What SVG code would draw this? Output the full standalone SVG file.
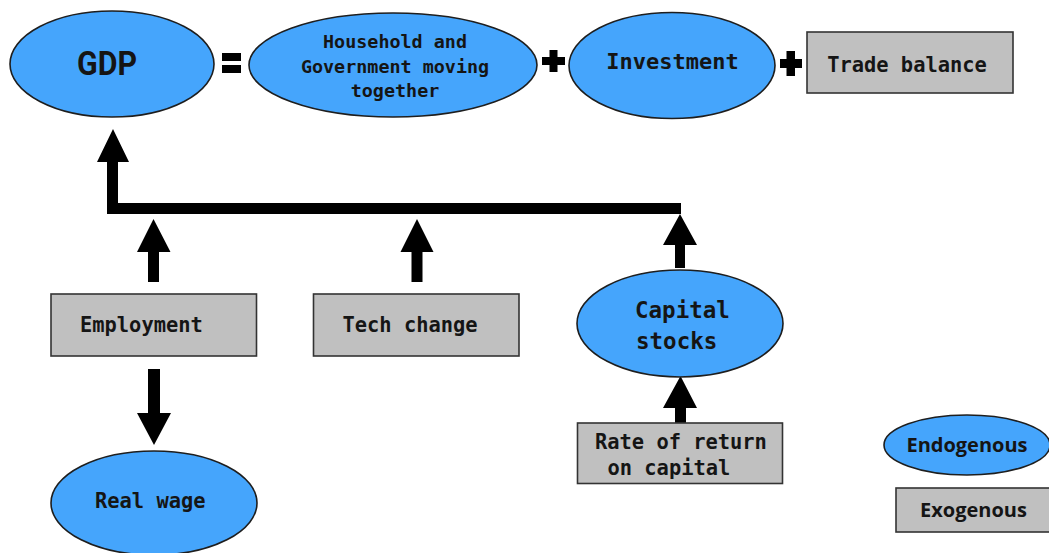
<svg xmlns="http://www.w3.org/2000/svg" width="1049" height="553" viewBox="0 0 1049 553">
<style>
.endo{fill:#45a5fc;stroke:#1e1e1e;stroke-width:1.6}
.exo{fill:#c0c0c0;stroke:#333;stroke-width:1.6}
.mono{font-family:"DejaVu Sans Mono","Liberation Mono",monospace;font-weight:bold;fill:#151515}
.sans{font-family:"Open Sans","DejaVu Sans",sans-serif;font-weight:bold;fill:#151515}
.blk{fill:#000}
</style>
<rect width="1049" height="553" fill="#fff"/>
<g id="gdp">
<ellipse class="endo" cx="112" cy="64" rx="102" ry="53"/>
<text x="107" y="75" font-family="Roboto,'DejaVu Sans',sans-serif" font-weight="bold" font-size="33" fill="#151515" text-anchor="middle" textLength="60" lengthAdjust="spacingAndGlyphs">GDP</text>
</g>
<g id="equals" class="blk">
<rect x="222" y="53" width="19" height="8"/>
<rect x="222" y="65" width="19" height="8"/>
</g>
<g id="household">
<ellipse class="endo" cx="393" cy="65" rx="144" ry="52"/>
<text class="mono" font-size="18.4" text-anchor="middle"><tspan x="395" y="48">Household and</tspan><tspan x="395" y="72.5">Government moving</tspan><tspan x="395" y="97">together</tspan></text>
</g>
<g id="plus1" class="blk">
<rect x="549.5" y="50" width="8" height="22"/>
<rect x="542" y="57" width="23" height="8"/>
</g>
<g id="investment">
<ellipse class="endo" cx="672" cy="65.5" rx="103" ry="53"/>
<text class="mono" font-size="22" x="672.5" y="69" text-anchor="middle">Investment</text>
</g>
<g id="plus2" class="blk">
<rect x="786.5" y="51" width="8.5" height="25"/>
<rect x="780" y="59" width="22" height="9"/>
</g>
<g id="trade">
<rect class="exo" x="807" y="32" width="206" height="61"/>
<text class="mono" font-size="20.4" x="907" y="71.5" text-anchor="middle">Trade balance</text>
</g>
<g id="connectors" class="blk">
<path d="M107,214 L107,162 L97,162 L113,129 L129,162 L118,162 L118,203 L681,203 L681,214 Z"/>
<path d="M148,282 L148,252 L137,252 L153.5,219 L170.5,252 L159,252 L159,282 Z"/>
<path d="M411.5,282 L411.5,252 L400.5,252 L417,219 L433.5,252 L422.5,252 L422.5,282 Z"/>
<path d="M675,268 L675,245 L663,245 L680,214 L697,245 L685,245 L685,268 Z"/>
<path d="M675,423 L675,408 L663,408 L680.5,376 L697,408 L686,408 L686,423 Z"/>
<path d="M148,369 L160,369 L160,413 L171,413 L154,445 L137,413 L148,413 Z"/>
</g>
<g id="employment">
<rect class="exo" x="51" y="294" width="205.5" height="62"/>
<text class="mono" font-size="20.4" x="80" y="332">Employment</text>
</g>
<g id="tech">
<rect class="exo" x="313.5" y="294" width="205.5" height="62"/>
<text class="mono" font-size="20.4" x="342.5" y="332">Tech change</text>
</g>
<g id="capital">
<ellipse class="endo" cx="680" cy="323.5" rx="103" ry="53.5"/>
<text class="mono" font-size="22.5"><tspan x="635" y="317.5">Capital</tspan><tspan x="636" y="348.5">stocks</tspan></text>
</g>
<g id="rate">
<rect class="exo" x="577.5" y="423" width="205" height="60.5"/>
<text class="mono" font-size="20.4"><tspan x="595" y="448.5">Rate of return</tspan><tspan x="607.5" y="475">on capital</tspan></text>
</g>
<g id="realwage">
<ellipse class="endo" cx="154" cy="503" rx="103" ry="52"/>
<text class="mono" font-size="20.4" x="95" y="507.5">Real wage</text>
</g>
<g id="legend-endo">
<ellipse class="endo" cx="967" cy="445" rx="83" ry="30"/>
<text class="sans" font-size="20" x="967" y="452" text-anchor="middle">Endogenous</text>
</g>
<g id="legend-exo">
<rect class="exo" x="896" y="488" width="160" height="44"/>
<text class="sans" font-size="20" x="973.5" y="517" text-anchor="middle">Exogenous</text>
</g>
</svg>
